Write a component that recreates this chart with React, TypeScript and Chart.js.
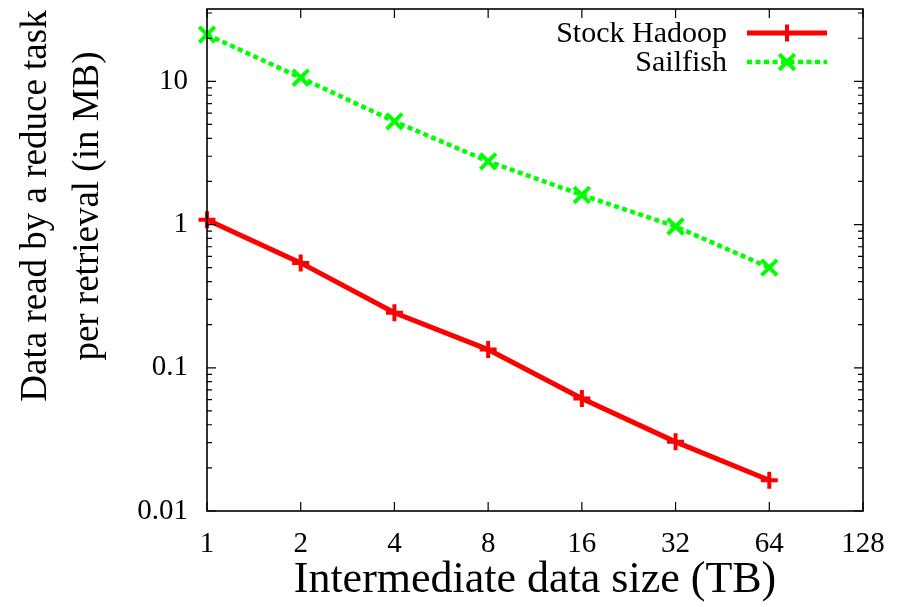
import React, { useEffect, useRef } from 'react';
import { Chart, registerables } from 'chart.js';

Chart.register(...registerables);

// ---- data ----
const dataSizes = [1, 2, 4, 8, 16, 32, 64];
const stockHadoop = [1.08, 0.54, 0.242, 0.134, 0.061, 0.0304, 0.0164];
const sailfish = [21.2, 10.6, 5.25, 2.76, 1.61, 0.97, 0.5];
const seriesLabels = ['Stock Hadoop', 'Sailfish'];
const xTicks = [1, 2, 4, 8, 16, 32, 64, 128];
const yTicks = [0.01, 0.1, 1, 10];
const yMinorFactors = [2, 3, 4, 5, 6, 7, 8, 9];
const xTitle = 'Intermediate data size (TB)';
const yTitle = ['Data read by a reduce task', 'per retrieval (in MB)'];

const FONT = "'Liberation Serif', 'Times New Roman', serif";
const RED = '#ff0000';
const GREEN = '#00ff00';

function drawMarker(ctx: CanvasRenderingContext2D, style: string, x: number, y: number, r: number) {
  ctx.beginPath();
  if (style === 'cross') {
    ctx.moveTo(x - r, y); ctx.lineTo(x + r, y);
    ctx.moveTo(x, y - r); ctx.lineTo(x, y + r);
  } else {
    const d = r * Math.SQRT1_2;
    ctx.moveTo(x - d, y - d); ctx.lineTo(x + d, y + d);
    ctx.moveTo(x - d, y + d); ctx.lineTo(x + d, y - d);
  }
  ctx.stroke();
}

const framePlugin = {
  id: 'frame',
  afterDatasetsDraw(chart: any) {
    const { ctx, chartArea: a, scales } = chart;
    const xs = scales.x, ys = scales.y;
    ctx.save();
    ctx.strokeStyle = '#000';
    ctx.lineWidth = 1.6;
    ctx.strokeRect(a.left, a.top, a.right - a.left, a.bottom - a.top);
    ctx.lineWidth = 1.2;
    ctx.beginPath();
    const major = 9, minor = 5;
    xTicks.forEach((v) => {
      const px = xs.getPixelForValue(v);
      ctx.moveTo(px, a.bottom); ctx.lineTo(px, a.bottom - major);
      ctx.moveTo(px, a.top); ctx.lineTo(px, a.top + major);
    });
    yTicks.forEach((v) => {
      const py = ys.getPixelForValue(v);
      ctx.moveTo(a.left, py); ctx.lineTo(a.left + major, py);
      ctx.moveTo(a.right, py); ctx.lineTo(a.right - major, py);
      yMinorFactors.forEach((f) => {
        const val = v * f;
        if (val > ys.max) return;
        const pm = ys.getPixelForValue(val);
        ctx.moveTo(a.left, pm); ctx.lineTo(a.left + minor, pm);
        ctx.moveTo(a.right, pm); ctx.lineTo(a.right - minor, pm);
      });
    });
    ctx.stroke();
    ctx.restore();
  },
  afterDraw(chart: any) {
    const { ctx, chartArea: a } = chart;
    ctx.save();
    // axis titles
    ctx.fillStyle = '#000';
    ctx.textAlign = 'center';
    ctx.textBaseline = 'middle';
    ctx.font = `44px ${FONT}`;
    ctx.fillText(xTitle, (a.left + a.right) / 2, 580);
    ctx.font = `37px ${FONT}`;
    ctx.translate(0, 206);
    ctx.rotate(-Math.PI / 2);
    yTitle.forEach((line, i) => {
      ctx.fillText(line, 0, 36 + i * 52);
    });
    ctx.restore();

    // legend
    ctx.save();
    ctx.font = `30px ${FONT}`;
    ctx.textAlign = 'right';
    ctx.textBaseline = 'middle';
    chart.data.datasets.forEach((ds: any, i: number) => {
      const y = 33 + i * 29;
      ctx.fillStyle = '#000';
      ctx.fillText(ds.label, 727, y + 1);
      ctx.strokeStyle = ds.borderColor;
      ctx.lineWidth = ds.borderWidth;
      ctx.setLineDash(ds.borderDash || []);
      ctx.beginPath();
      ctx.moveTo(747, y); ctx.lineTo(827, y);
      ctx.stroke();
      ctx.setLineDash([]);
      ctx.lineWidth = ds.pointBorderWidth;
      drawMarker(ctx, ds.pointStyle, 787, y, ds.pointRadius);
    });
    ctx.restore();
  },
};

export default function App() {
  const ref = useRef<HTMLCanvasElement>(null);
  useEffect(() => {
    if (!ref.current) return;
    const chart = new Chart(ref.current, {
      type: 'line',
      data: {
        datasets: [
          {
            label: seriesLabels[0],
            data: dataSizes.map((x, i) => ({ x, y: stockHadoop[i] })),
            borderColor: RED,
            backgroundColor: RED,
            borderWidth: 5,
            pointStyle: 'cross',
            pointRadius: 8.5,
            pointBorderWidth: 4,
            pointBorderColor: RED,
            pointBackgroundColor: RED,
            clip: false,
          } as any,
          {
            label: seriesLabels[1],
            data: dataSizes.map((x, i) => ({ x, y: sailfish[i] })),
            borderColor: GREEN,
            backgroundColor: GREEN,
            borderWidth: 4.5,
            borderDash: [5, 3.5],
            pointStyle: 'crossRot',
            pointRadius: 11,
            pointBorderWidth: 4,
            pointBorderColor: GREEN,
            pointBackgroundColor: GREEN,
            clip: false,
          } as any,
        ],
      },
      options: {
        responsive: false,
        animation: false,
        layout: { autoPadding: false, padding: { left: 0, right: 43, top: 9, bottom: 0 } },
        plugins: { legend: { display: false }, tooltip: { enabled: false } },
        scales: {
          x: {
            type: 'logarithmic',
            min: 1,
            max: 128,
            grid: { display: false, drawTicks: false },
            border: { display: false },
            afterBuildTicks: (s: any) => { s.ticks = xTicks.map((v) => ({ value: v })); },
            afterFit: (s: any) => { s.height = 96; s.paddingLeft = 0; s.paddingRight = 0; },
            ticks: {
              autoSkip: false,
              maxRotation: 0,
              padding: 16,
              color: '#000',
              font: { family: FONT, size: 29 },
              callback: (v: any) => String(v),
            },
          },
          y: {
            type: 'logarithmic',
            min: 0.01,
            max: 32,
            grid: { display: false, drawTicks: false },
            border: { display: false },
            afterBuildTicks: (s: any) => { s.ticks = yTicks.map((v) => ({ value: v })); },
            afterFit: (s: any) => { s.width = 207; s.paddingTop = 0; s.paddingBottom = 0; },
            ticks: {
              autoSkip: false,
              padding: 19,
              color: '#000',
              font: { family: FONT, size: 29 },
              callback: (v: any) => String(v),
            },
          },
        },
      } as any,
      plugins: [framePlugin],
    });
    return () => chart.destroy();
  }, []);
  return (
    <div style={{ position: 'absolute', left: 0, top: 0, width: 906, height: 607, background: '#fff' }}>
      <canvas ref={ref} width={906} height={607} style={{ display: 'block' }} />
    </div>
  );
}
